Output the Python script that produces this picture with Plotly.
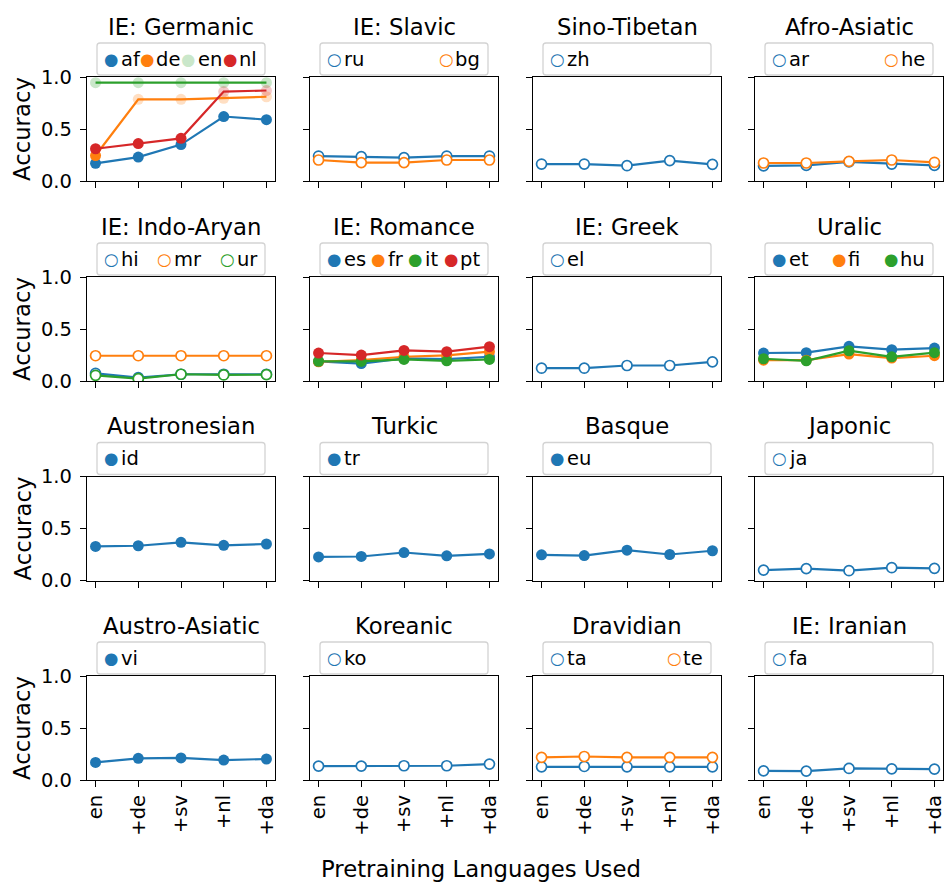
import plotly.graph_objects as go

# ---------------- data ----------------
steps = ["en", "+de", "+sv", "+nl", "+da"]
pretrain_order = ["en", "de", "sv", "nl", "da"]

families = ["IE: Germanic", "IE: Slavic", "Sino-Tibetan", "Afro-Asiatic",
            "IE: Indo-Aryan", "IE: Romance", "IE: Greek", "Uralic",
            "Austronesian", "Turkic", "Basque", "Japonic",
            "Austro-Asiatic", "Koreanic", "Dravidian", "IE: Iranian"]

family_langs = [["af", "de", "en", "nl"], ["ru", "bg"], ["zh"], ["ar", "he"],
                ["hi", "mr", "ur"], ["es", "fr", "it", "pt"], ["el"], ["et", "fi", "hu"],
                ["id"], ["tr"], ["eu"], ["ja"],
                ["vi"], ["ko"], ["ta", "te"], ["fa"]]

latin_script = ["af", "de", "en", "nl", "es", "fr", "it", "pt", "et", "fi", "hu",
                "id", "tr", "eu", "vi"]

acc_af = [0.17, 0.23, 0.35, 0.62, 0.59]
acc_de = [0.245, 0.785, 0.785, 0.795, 0.81]
acc_en = [0.945, 0.945, 0.945, 0.945, 0.945]
acc_nl = [0.31, 0.36, 0.41, 0.86, 0.87]
acc_ru = [0.24, 0.234, 0.225, 0.24, 0.24]
acc_bg = [0.202, 0.177, 0.177, 0.202, 0.202]
acc_zh = [0.163, 0.163, 0.147, 0.196, 0.16]
acc_ar = [0.145, 0.15, 0.183, 0.163, 0.15]
acc_he = [0.173, 0.173, 0.189, 0.202, 0.18]
acc_hi = [0.074, 0.032, 0.065, 0.065, 0.065]
acc_mr = [0.243, 0.243, 0.243, 0.243, 0.243]
acc_ur = [0.055, 0.022, 0.065, 0.058, 0.061]
acc_es = [0.188, 0.168, 0.217, 0.21, 0.233]
acc_fr = [0.185, 0.2, 0.233, 0.246, 0.282]
acc_it = [0.19, 0.188, 0.207, 0.194, 0.207]
acc_pt = [0.269, 0.249, 0.294, 0.282, 0.33]
acc_el = [0.123, 0.123, 0.149, 0.149, 0.184]
acc_et = [0.269, 0.272, 0.333, 0.301, 0.317]
acc_fi = [0.2, 0.2, 0.259, 0.22, 0.243]
acc_hu = [0.214, 0.194, 0.291, 0.233, 0.272]
acc_id = [0.328, 0.334, 0.367, 0.338, 0.351]
acc_tr = [0.227, 0.231, 0.269, 0.237, 0.256]
acc_eu = [0.247, 0.24, 0.292, 0.25, 0.286]
acc_ja = [0.10, 0.114, 0.094, 0.123, 0.117]
acc_vi = [0.169, 0.208, 0.212, 0.192, 0.202]
acc_ko = [0.134, 0.134, 0.137, 0.137, 0.153]
acc_ta = [0.127, 0.13, 0.127, 0.127, 0.127]
acc_te = [0.218, 0.226, 0.218, 0.218, 0.218]
acc_fa = [0.088, 0.086, 0.111, 0.107, 0.104]

acc = {"af": acc_af, "de": acc_de, "en": acc_en, "nl": acc_nl, "ru": acc_ru,
       "bg": acc_bg, "zh": acc_zh, "ar": acc_ar, "he": acc_he, "hi": acc_hi,
       "mr": acc_mr, "ur": acc_ur, "es": acc_es, "fr": acc_fr, "it": acc_it,
       "pt": acc_pt, "el": acc_el, "et": acc_et, "fi": acc_fi, "hu": acc_hu,
       "id": acc_id, "tr": acc_tr, "eu": acc_eu, "ja": acc_ja, "vi": acc_vi,
       "ko": acc_ko, "ta": acc_ta, "te": acc_te, "fa": acc_fa}

# ---------------- style / layout ----------------
palette = ["#1f77b4", "#ff7f0e", "#2ca02c", "#d62728"]
FONT = "DejaVu Sans"
TICK_SIZE = 19.5
TITLE_SIZE = 22.75
W, H = 945, 882
col_left = [87, 310, 533, 755]
PW = 188
row_top = [77, 277, 476.5, 676]
PH = 104
FADE = 0.25


def pxx(x):
    return x / W


def pxy(y):
    return 1 - y / H


def rgba(hexc, a):
    h = hexc.lstrip("#")
    return "rgba(%d,%d,%d,%.2f)" % (int(h[0:2], 16), int(h[2:4], 16), int(h[4:6], 16), a)


ADV = {'a': 1255, 'b': 1300, 'd': 1300, 'e': 1260, 'f': 721, 'g': 1300, 'h': 1298,
       'i': 569, 'j': 569, 'k': 1186, 'l': 569, 'm': 1995, 'n': 1298, 'o': 1253,
       'p': 1300, 'r': 842, 's': 1067, 't': 803, 'u': 1298, 'v': 1212, 'z': 1075}


def text_w(s, size):
    return sum(ADV.get(ch, 1200) for ch in s) / 2048 * size


def legend_marker_offsets(labels, box_w, size):
    widths = [14.4 + text_w(l, size) for l in labels]
    inner = box_w - 17
    starts = [9.0]
    if len(labels) > 1:
        sep = (inner - sum(widths)) / (len(labels) - 1)
        for w in widths[:-1]:
            starts.append(starts[-1] + w + sep)
    return [s + 5 for s in starts]


def included(lang, step_idx):
    if lang not in pretrain_order:
        return False
    return pretrain_order.index(lang) <= step_idx


fig = go.Figure()
annotations = []
shapes = []
layout_axes = {}

for i, (fam, langs) in enumerate(zip(families, family_langs)):
    r, c = divmod(i, 4)
    k = i + 1
    xa = "x" if k == 1 else "x%d" % k
    ya = "y" if k == 1 else "y%d" % k
    L = col_left[c]
    T = row_top[r]

    for j, lang in enumerate(langs):
        color = palette[j]
        filled = lang in latin_script
        op = [FADE if included(lang, s) else 1.0 for s in range(len(steps))]
        marker = dict(symbol="circle", opacity=op)
        if filled:
            marker.update(size=11, color=color, line=dict(width=0))
        else:
            marker.update(size=10, color="white", line=dict(color=color, width=1.7))
        fig.add_trace(go.Scatter(
            x=steps, y=acc[lang], name=lang, mode="lines+markers",
            line=dict(color=color, width=2.2), marker=marker,
            xaxis=xa, yaxis=ya, showlegend=False))

    axis_common = dict(showline=True, linecolor="black", linewidth=1.3, mirror=True,
                       ticks="outside", ticklen=6, tickwidth=1.3, tickcolor="black",
                       showgrid=False, zeroline=False, automargin=False,
                       tickfont=dict(family=FONT, size=TICK_SIZE, color="black"))
    layout_axes["xaxis" if k == 1 else "xaxis%d" % k] = dict(
        axis_common, domain=[pxx(L), pxx(L + PW)], anchor=ya,
        type="category", categoryorder="array", categoryarray=steps,
        range=[-0.2, 4.2], showticklabels=(r == 3), tickangle=-90)
    layout_axes["yaxis" if k == 1 else "yaxis%d" % k] = dict(
        axis_common, domain=[pxy(T + PH), pxy(T)], anchor=xa,
        range=[0, 1], tickvals=[0, 0.5, 1.0], tickformat=".1f",
        showticklabels=(c == 0), ticklabelstandoff=4)

    # panel title
    annotations.append(dict(text=fam, x=pxx(L + PW / 2), y=pxy(T - 50),
                            xref="paper", yref="paper", xanchor="center", yanchor="middle",
                            showarrow=False, font=dict(family=FONT, size=TITLE_SIZE, color="black")))

    # legend box (rounded)
    bx0, bx1 = L + 10, L + PW - 10
    by0, by1 = T - 34, T - 2
    rad = 3

    def P(x, y):
        return "%.6f,%.6f" % (pxx(x), pxy(y))
    path = ("M " + P(bx0 + rad, by0) + " L " + P(bx1 - rad, by0) +
            " Q " + P(bx1, by0) + " " + P(bx1, by0 + rad) +
            " L " + P(bx1, by1 - rad) + " Q " + P(bx1, by1) + " " + P(bx1 - rad, by1) +
            " L " + P(bx0 + rad, by1) + " Q " + P(bx0, by1) + " " + P(bx0, by1 - rad) +
            " L " + P(bx0, by0 + rad) + " Q " + P(bx0, by0) + " " + P(bx0 + rad, by0) + " Z")
    shapes.append(dict(type="path", path=path, xref="paper", yref="paper",
                       line=dict(color="#d3d3d3", width=1.3), fillcolor="white", layer="above"))

    offs = legend_marker_offsets(langs, bx1 - bx0, TICK_SIZE)
    ymid = (by0 + by1) / 2
    for j, (lang, off) in enumerate(zip(langs, offs)):
        color = palette[j]
        filled = lang in latin_script
        a = FADE if included(lang, 0) else 1.0
        glyph = "●" if filled else "○"
        mx = bx0 + off
        annotations.append(dict(text=glyph, x=pxx(mx), y=pxy(ymid), xref="paper", yref="paper",
                                xanchor="center", yanchor="middle", showarrow=False, borderpad=0,
                                font=dict(family=FONT, size=16.5, color=rgba(color, a))))
        annotations.append(dict(text=lang, x=pxx(mx + 8.5), y=pxy(ymid), xref="paper", yref="paper",
                                xanchor="left", yanchor="middle", showarrow=False, borderpad=0,
                                font=dict(family=FONT, size=TICK_SIZE, color="black")))

# y labels
for r in range(4):
    annotations.append(dict(text="Accuracy", x=pxx(22), y=pxy(row_top[r] + PH / 2),
                            xref="paper", yref="paper", xanchor="center", yanchor="middle",
                            textangle=-90, showarrow=False,
                            font=dict(family=FONT, size=TITLE_SIZE, color="black")))
# x label
annotations.append(dict(text="Pretraining Languages Used", x=pxx(481), y=pxy(869),
                        xref="paper", yref="paper", xanchor="center", yanchor="middle",
                        showarrow=False, font=dict(family=FONT, size=TITLE_SIZE, color="black")))

fig.update_layout(width=W, height=H,
                  margin=dict(l=0, r=0, t=0, b=0, pad=0, autoexpand=False),
                  paper_bgcolor="white", plot_bgcolor="white", showlegend=False,
                  font=dict(family=FONT, color="black"),
                  annotations=annotations, shapes=shapes, **layout_axes)

fig.write_html("out.html", config={"displayModeBar": False},
               post_script="document.body.style.margin='0';document.body.style.padding='0';"
                           "document.body.style.overflow='hidden';")
